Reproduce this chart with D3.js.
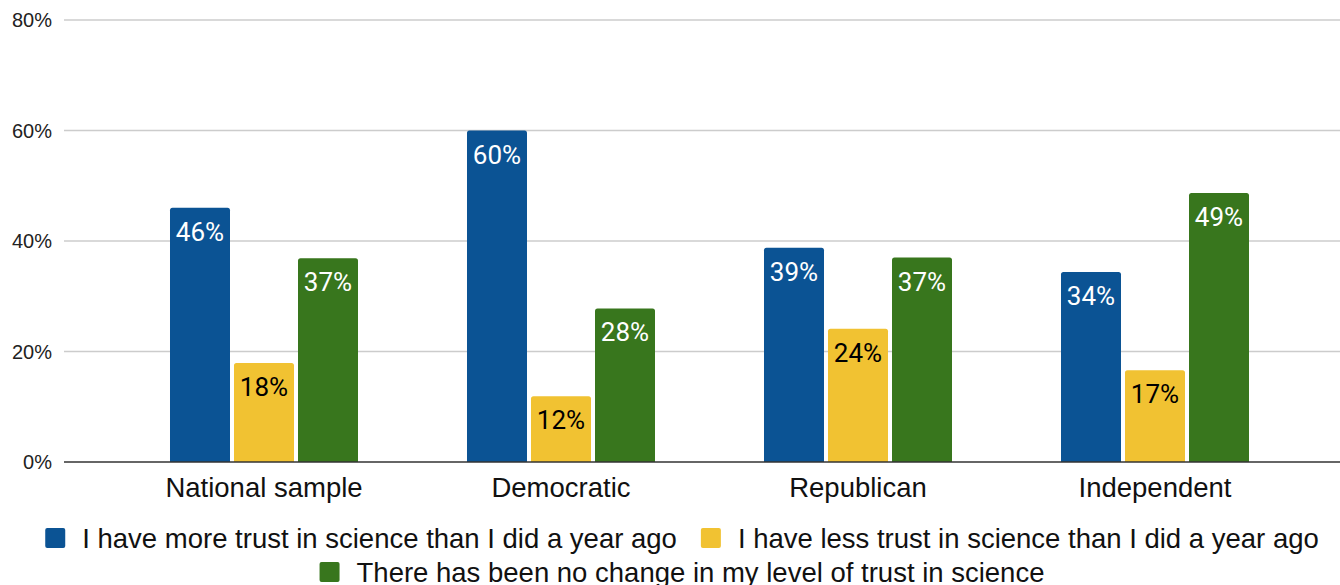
<!DOCTYPE html>
<html>
<head>
<meta charset="utf-8">
<script src="https://cdn.jsdelivr.net/npm/d3@7"></script>
<style>
  html, body { margin: 0; padding: 0; background: #fff; }
  svg { display: block; }
</style>
</head>
<body>
<svg id="chart" width="1340" height="585"></svg>
<script>
const categories = ["National sample", "Democratic", "Republican", "Independent"];
const seriesNames = [
  "I have more trust in science than I did a year ago",
  "I have less trust in science than I did a year ago",
  "There has been no change in my level of trust in science"
];
const moreTrust = [46, 60, 38.8, 34.4];
const lessTrust = [17.9, 11.9, 24.1, 16.6];
const noChange = [36.9, 27.8, 37, 48.7];
const yTicks = [0, 20, 40, 60, 80];
const colors = ["#0b5394", "#f1c232", "#38761d"];
const labelColors = ["#ffffff", "#000000", "#ffffff"];

const series = [moreTrust, lessTrust, noChange];

const svg = d3.select("#chart");
const gridLeft = 64, gridRight = 1340;

const y = d3.scaleLinear().domain([0, 80]).range([462, 20]);
const x0 = d3.scaleBand().domain(categories).range([115.5, 1303.5]).paddingInner(0.367).paddingOuter(0.1835);
const x1 = d3.scaleBand().domain(d3.range(series.length)).range([0, x0.bandwidth()]).paddingInner(0.0625).paddingOuter(0);

// gridlines
svg.append("g").selectAll("line").data(yTicks.filter(t => t !== 0)).join("line")
  .attr("x1", gridLeft).attr("x2", gridRight)
  .attr("y1", d => y(d)).attr("y2", d => y(d))
  .attr("stroke", "#cccccc").attr("stroke-width", 1.5);

// y tick labels
svg.append("g").selectAll("text").data(yTicks).join("text")
  .attr("x", 52).attr("y", d => y(d) + 7)
  .attr("text-anchor", "end")
  .attr("font-family", "'Liberation Sans', Arial, sans-serif")
  .attr("font-size", 20).attr("fill", "#222")
  .text(d => d + "%");

// bars
const groups = svg.append("g").selectAll("g").data(categories).join("g")
  .attr("transform", d => `translate(${x0(d)},0)`);

groups.each(function(cat, ci) {
  const g = d3.select(this);
  series.forEach((vals, si) => {
    const v = vals[ci];
    const bx = x1(si), bw = x1.bandwidth();
    const top = y(v), bot = y(0);
    const r = 2.5;
    const path = `M${bx},${bot} L${bx},${top + r} Q${bx},${top} ${bx + r},${top} L${bx + bw - r},${top} Q${bx + bw},${top} ${bx + bw},${top + r} L${bx + bw},${bot} Z`;
    g.append("path").attr("d", path).attr("fill", colors[si]);
    g.append("text")
      .attr("x", bx + bw / 2).attr("y", top + 33)
      .attr("text-anchor", "middle")
      .attr("font-family", "Roboto, sans-serif")
      .attr("font-size", 26)
      .attr("fill", labelColors[si])
      .text(Math.round(v) + "%");
  });
});

// baseline
svg.append("line").attr("x1", gridLeft).attr("x2", gridRight)
  .attr("y1", y(0)).attr("y2", y(0))
  .attr("stroke", "#333").attr("stroke-width", 1.5);

// category labels
svg.append("g").selectAll("text").data(categories).join("text")
  .attr("x", d => x0(d) + x0.bandwidth() / 2).attr("y", 497)
  .attr("text-anchor", "middle")
  .attr("font-family", "'Liberation Sans', Arial, sans-serif")
  .attr("font-size", 27.5).attr("fill", "#111")
  .text(d => d);

// legend
const legendCenter = 682;
const rows = [[0, 1], [2]];
const rowY = [538, 572];
const sq = 20, sqGap = 17, itemGap = 24;
rows.forEach((items, ri) => {
  const row = svg.append("g");
  let cx = 0;
  items.forEach(si => {
    const it = row.append("g").attr("transform", `translate(${cx},0)`);
    it.append("rect").attr("x", 0).attr("y", rowY[ri] - sq / 2).attr("width", sq).attr("height", sq)
      .attr("rx", 2).attr("fill", colors[si]);
    const t = it.append("text").attr("x", sq + sqGap).attr("y", rowY[ri] + 10)
      .attr("font-family", "'Liberation Sans', Arial, sans-serif")
      .attr("font-size", 27.5).attr("fill", "#111")
      .text(seriesNames[si]);
    cx += sq + sqGap + t.node().getComputedTextLength() + itemGap;
  });
  const total = cx - itemGap;
  row.attr("transform", `translate(${legendCenter - total / 2},0)`);
});
</script>
</body>
</html>
